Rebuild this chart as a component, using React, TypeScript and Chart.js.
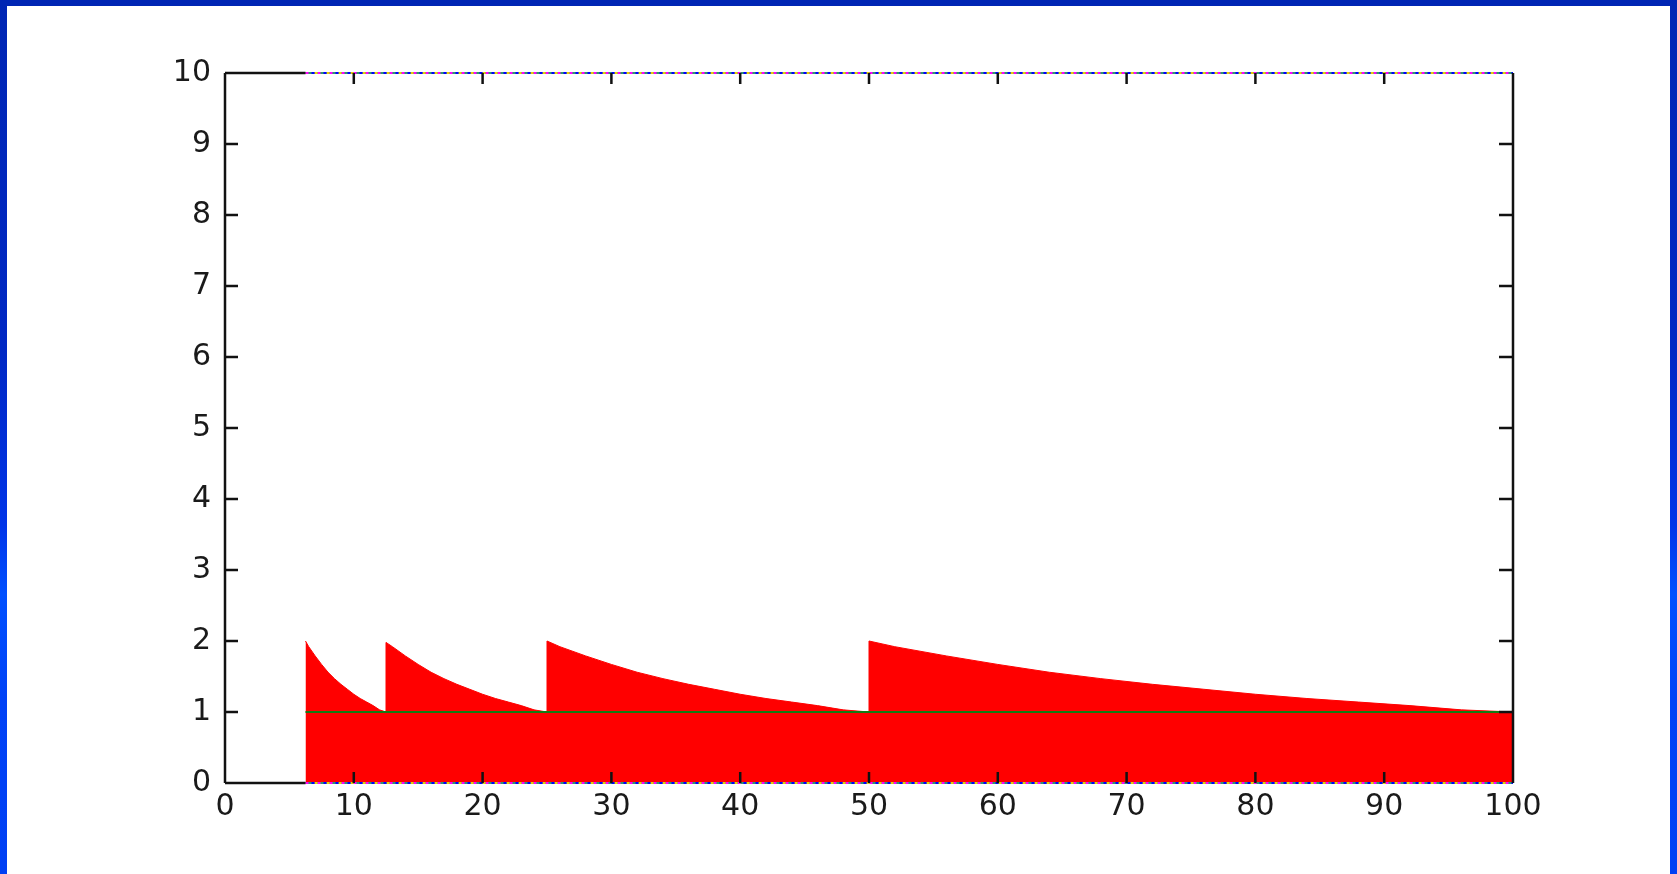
import React, { useEffect, useRef } from "react";
import { Chart, registerables } from "chart.js";

Chart.register(...registerables);

// Red filled sawtooth (x, y)
const segAX = [6.25, 6.5, 7, 7.5, 8, 8.5, 9, 9.5, 10, 10.5, 11, 11.5, 12, 12.5];
const segAY = [2.0, 1.92, 1.79, 1.67, 1.56, 1.47, 1.39, 1.32, 1.25, 1.19, 1.14, 1.09, 1.03, 1.0];
const segBX = [12.5, 13, 14, 15, 16, 17, 18, 19, 20, 21, 22, 23, 24, 25];
const segBY = [1.98, 1.92, 1.79, 1.67, 1.56, 1.47, 1.39, 1.32, 1.25, 1.19, 1.14, 1.09, 1.03, 1.0];
const segCX = [25, 26, 28, 30, 32, 34, 36, 38, 40, 42, 44, 46, 48, 50];
const segCY = [2.0, 1.92, 1.79, 1.67, 1.56, 1.47, 1.39, 1.32, 1.25, 1.19, 1.14, 1.09, 1.03, 1.0];
const segDX = [50, 52, 56, 60, 64, 68, 72, 76, 80, 84, 88, 92, 96, 100];
const segDY = [2.0, 1.92, 1.79, 1.67, 1.56, 1.47, 1.39, 1.32, 1.25, 1.19, 1.14, 1.09, 1.03, 1.0];

// Green reference line
const greenX = [6.25, 100];
const greenY = [1, 1];

// Multi-coloured dotted lines along top and bottom edges
const edgeX = [6.25, 100];
const topY = [10, 10];
const bottomY = [0, 0];

const xTicks = [0, 10, 20, 30, 40, 50, 60, 70, 80, 90, 100];
const yTicks = [0, 1, 2, 3, 4, 5, 6, 7, 8, 9, 10];

const pts = (xs: number[], ys: number[]) => xs.map((x, i) => ({ x, y: ys[i] }));

const FONT = { family: "'DejaVu Sans', sans-serif", size: 30 };

export default function App() {
  const ref = useRef<HTMLCanvasElement>(null);

  useEffect(() => {
    const canvas = ref.current!;
    const redData = [
      ...pts(segAX, segAY),
      ...pts(segBX, segBY),
      ...pts(segCX, segCY),
      ...pts(segDX, segDY),
    ];

    const edgeSets = (ys: number[]) => [
      { data: pts(edgeX, ys), borderColor: "#2e9a6a", borderWidth: 2, order: 4 },
      { data: pts(edgeX, ys), borderColor: "#ff00ff", borderWidth: 2, borderDash: [3, 9], borderDashOffset: 0, order: 3 },
      { data: pts(edgeX, ys), borderColor: "#e8d000", borderWidth: 2, borderDash: [3, 9], borderDashOffset: 3, order: 2 },
      { data: pts(edgeX, ys), borderColor: "#0000ff", borderWidth: 2, borderDash: [3, 9], borderDashOffset: 6, order: 1 },
    ].map((d) => ({ ...d, pointRadius: 0, fill: false, clip: 6 }));

    const frame = {
      id: "frame",
      afterDatasetsDraw(chart: any) {
        const { ctx, chartArea: a, scales } = chart;
        const xs = scales.x, ys = scales.y;
        const startPx = xs.getPixelForValue(edgeX[0]);
        ctx.save();
        ctx.strokeStyle = "#111";
        ctx.lineWidth = 2.5;
        ctx.beginPath();
        ctx.moveTo(a.left, a.top);
        ctx.lineTo(a.left, a.bottom);
        ctx.moveTo(a.right, a.top);
        ctx.lineTo(a.right, a.bottom);
        ctx.moveTo(a.left, a.top);
        ctx.lineTo(startPx, a.top);
        ctx.moveTo(a.left, a.bottom);
        ctx.lineTo(startPx, a.bottom);
        for (const v of xTicks.slice(1, -1)) {
          const p = xs.getPixelForValue(v);
          ctx.moveTo(p, a.bottom);
          ctx.lineTo(p, a.bottom - 11);
          ctx.moveTo(p, a.top);
          ctx.lineTo(p, a.top + 11);
        }
        for (const v of yTicks.slice(1, -1)) {
          const p = ys.getPixelForValue(v);
          ctx.moveTo(a.left, p);
          ctx.lineTo(a.left + 13, p);
          ctx.moveTo(a.right, p);
          ctx.lineTo(a.right - 14, p);
        }
        ctx.stroke();
        ctx.restore();
      },
    };

    const chart = new Chart(canvas, {
      type: "line",
      data: {
        datasets: [
          {
            data: redData,
            borderColor: "#ff0000",
            borderWidth: 1,
            backgroundColor: "#ff0000",
            fill: "origin",
            pointRadius: 0,
            tension: 0,
            order: 10,
          },
          {
            data: pts(greenX, greenY),
            borderColor: "#137a13",
            borderWidth: 2,
            pointRadius: 0,
            fill: false,
            order: 5,
          },
          ...edgeSets(topY),
          ...edgeSets(bottomY),
        ] as any,
      },
      options: {
        animation: false,
        responsive: false,
        devicePixelRatio: 1,
        layout: { padding: { left: 0, top: 73, right: 164, bottom: 0 } },
        plugins: { legend: { display: false }, tooltip: { enabled: false } },
        scales: {
          x: {
            type: "linear",
            min: 0,
            max: 100,
            afterBuildTicks: (s: any) => {
              s.ticks = xTicks.map((v) => ({ value: v }));
            },
            afterFit: (s: any) => {
              s.height = 91;
            },
            grid: { display: false, drawTicks: false },
            border: { display: false },
            ticks: { color: "#1a1a1a", font: FONT, padding: 6, maxRotation: 0, autoSkip: false },
          },
          y: {
            type: "linear",
            min: 0,
            max: 10,
            afterBuildTicks: (s: any) => {
              s.ticks = yTicks.map((v) => ({ value: v }));
            },
            afterFit: (s: any) => {
              s.width = 225;
            },
            grid: { display: false, drawTicks: false },
            border: { display: false },
            ticks: { color: "#1a1a1a", font: FONT, padding: 14, autoSkip: false },
          },
        },
      },
      plugins: [frame],
    });
    return () => chart.destroy();
  }, []);

  return (
    <div
      style={{
        position: "fixed",
        left: 0,
        top: 0,
        width: 1677,
        height: 874,
        background:
          "linear-gradient(to bottom, #0026b4 0%, #0028c4 40%, #0034e8 60%, #0050ff 68%, #0042f6 80%, #0040f4 100%)",
      }}
    >
      <div
        style={{
          position: "absolute",
          left: 7,
          right: 7,
          top: 6,
          bottom: 0,
          background: "#ffffff",
        }}
      />
      <canvas
        ref={ref}
        width={1677}
        height={874}
        style={{ position: "absolute", left: 0, top: 0, width: 1677, height: 874 }}
      />
    </div>
  );
}
